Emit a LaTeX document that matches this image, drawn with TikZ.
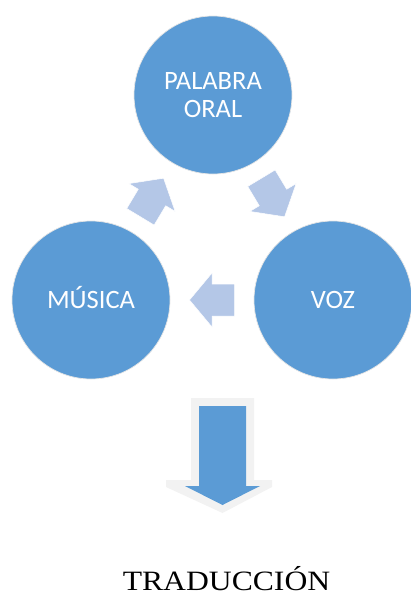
\documentclass[tikz,border=0pt]{standalone}
\usepackage{fontspec}
\usetikzlibrary{calc}
\newfontfamily\circfont{Carlito}
\newfontfamily\tradfont[FakeStretch=1.13]{Liberation Serif}
\definecolor{circblue}{HTML}{5B9BD5}
\definecolor{arrblue}{HTML}{B4C7E7}
\definecolor{arrgray}{HTML}{F2F2F2}

\begin{document}
\begin{tikzpicture}[x=1pt,y=-1pt,
  circulo/.style={draw=black!10,line width=0.7pt,fill=circblue,circle,minimum size=158pt,inner sep=0pt,text=white,font=\circfont\fontsize{26.5}{28}\selectfont,align=center},
  ciclo/.pic={\fill[arrblue,draw=white,line width=0.5pt] (-22.5,-16) -- (0,-16) -- (0,-27) -- (22.5,0) -- (0,27) -- (0,16) -- (-22.5,16) -- cycle;}]
  \useasboundingbox (0,0) rectangle (410,597);
  \node (P) at (213,95) [circulo] {PALABRA\\ORAL};
  \node (M) at (91,300) [circulo,text height=17pt,text depth=0pt] {MÚSICA};
  \node (V) at (333,300) [circulo,text height=17pt,text depth=0pt] {VOZ};
  \pic[rotate=59] at ($(M)!0.5!(P)$) {ciclo};
  \pic[rotate=-59] at ($(P)!0.5!(V)$) {ciclo};
  \pic[rotate=180] at ($(V)!0.5!(M)$) {ciclo};
  % flecha grande
  \fill[arrgray] (191,398) -- (254,398) -- (254,480) -- (272,480) -- (272,487) -- (222.5,513) -- (166,487) -- (166,480) -- (191,480) -- cycle;
  \fill[circblue] (199,406) -- (246,406) -- (246,486) -- (260,486) -- (222.5,505) -- (185,486) -- (199,486) -- cycle;
  \node (T) at (226.5,590) [anchor=base,font=\tradfont\fontsize{28}{30}\selectfont] {TRADUCCIÓN};
\end{tikzpicture}
\end{document}
